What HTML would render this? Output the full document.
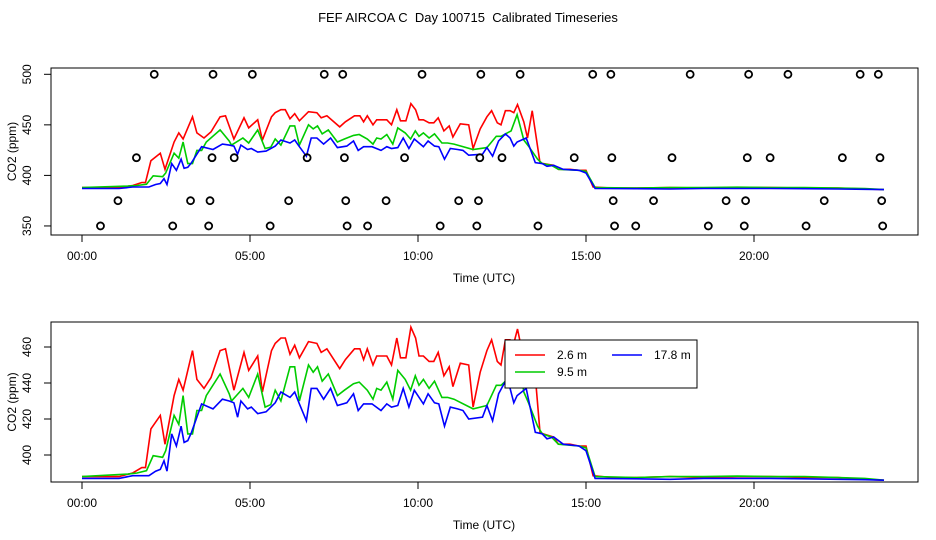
<!DOCTYPE html>
<html><head><meta charset="utf-8"><style>
html,body{margin:0;padding:0;background:#fff;}
svg{display:block;font-family:"Liberation Sans",sans-serif;}
</style></head><body>
<svg id="chart" width="936" height="540" viewBox="0 0 936 540" xmlns="http://www.w3.org/2000/svg">
<rect width="936" height="540" fill="#fff"/>
<text x="468" y="22" font-size="13" text-anchor="middle">FEF AIRCOA C&#160; Day 100715&#160; Calibrated Timeseries</text>
<g id="top"></g>
<g id="bottom"></g>
</svg>
<script>
const redH=[0,1.10,1.51,1.78,1.89,2.05,2.33,2.47,2.74,2.88,3.01,3.29,3.42,3.63,3.84,4.11,4.27,4.52,4.82,4.96,5.23,5.37,5.64,5.75,5.92,6.05,6.19,6.33,6.47,6.74,6.99,7.12,7.29,7.67,7.84,8.11,8.27,8.38,8.49,8.66,8.77,9.07,9.21,9.37,9.48,9.64,9.79,9.93,10.03,10.16,10.33,10.47,10.60,10.77,10.93,11.04,11.26,11.51,11.64,11.85,12.05,12.19,12.36,12.47,12.60,12.74,12.85,12.96,13.15,13.26,13.40,13.63,13.73,13.90,14.04,14.18,14.52,14.79,15.0,15.21,15.75,16.5,17.5,18.5,19.5,20.5,21.5,22.5,23.3,23.87];
const redV=[388,388,390,393,393,414.5,422,406,433,442,436,458,442,437,443,458,459,436,457,447,455,435,458,462,465,465,456,461,454,463,462,457,459,448,453,459,459,453,459,450,455,455,450,465,454,454,471,465,455,455,452,452,457,444,449,438,451,450,426.6,446,458,464,452,450,464,464,462,470,453,437,464,412.6,411.7,410.8,410,406,406,405,405,388.5,387.5,387.5,388,387.5,388,388,387.5,387.5,386.5,386];
const greenH=[0,1.37,1.64,1.92,2.12,2.40,2.49,2.74,2.88,3.01,3.15,3.29,3.42,3.56,3.70,4.11,4.38,4.45,4.79,4.96,5.23,5.45,5.62,5.75,5.92,6.19,6.33,6.47,6.74,6.88,7.01,7.15,7.33,7.60,7.81,8.08,8.25,8.49,8.66,8.77,8.90,9.07,9.25,9.40,9.62,9.78,9.92,10.03,10.16,10.33,10.49,10.71,10.88,11.07,11.64,12.05,12.33,12.47,12.60,12.77,12.95,13.15,13.29,13.56,13.70,13.97,14.18,14.79,15.0,15.27,16.5,17.5,18.5,19.5,20.5,21.5,22.5,23.3,23.87];
const greenV=[388,389.4,390,391.3,399.6,398.7,402.4,422,417,433,411.7,411.7,424.7,424.7,433,445,434,430,437,432,445,426.6,428,436,430,449,449,430,450,446,449,441,445,433,436,439.6,440.5,436,431,437,436,440.5,431,447,442,436,444,438.7,442,437,441,432,432,431,425.6,427.5,438.7,438.7,441,444,460,435,429,416,411.7,410,406,405,404,388,387.5,388,388,388.3,388,388,387.5,387,386];
const blueH=[0,1.10,1.51,1.99,2.19,2.33,2.44,2.53,2.67,2.81,2.95,3.04,3.15,3.26,3.56,3.90,4.18,4.38,4.52,4.63,4.73,4.93,5.04,5.23,5.48,5.75,5.92,6.19,6.33,6.47,6.68,6.82,6.99,7.19,7.40,7.60,7.88,8.08,8.22,8.38,8.63,8.90,9.07,9.21,9.40,9.56,9.73,9.89,10.16,10.30,10.49,10.62,10.79,10.96,11.18,11.34,11.51,11.92,12.05,12.22,12.40,12.60,12.74,12.85,12.95,13.22,13.49,13.70,13.84,14.04,14.32,14.79,15.0,15.27,16.5,17.5,18.5,19.5,20.5,21.5,22.5,23.3,23.87];
const blueV=[387,387,388.5,388.5,391,392,396.8,391,411.7,405,416,407,408,412.6,428.4,425.6,431,430,429,421,430,425.6,426.6,423,424,429,435,432,435,428.4,419,437,437,431,437,427.5,429,434,424.7,428.4,428.4,424.7,428.4,426.6,427.5,437,426.6,436,428.4,434,429,428.4,416,426.6,425.6,424.7,420,421,427.5,419,434,441,437,429,433,437,412.6,411.7,409,410,406,405,402.4,387,386.8,386.5,387,387,387,386.8,386.5,386.3,386];
const c500=[2.15,3.90,5.07,7.21,7.76,10.12,11.87,13.04,15.2,15.74,18.1,19.84,21.01,23.16,23.7];
const c417=[1.62,3.87,4.53,6.70,7.81,9.6,11.84,12.5,14.65,15.77,17.56,19.8,20.48,22.63,23.75];
const c375=[1.07,3.23,3.81,6.15,7.85,9.05,11.21,11.8,15.81,17.01,19.17,19.75,22.09,23.8];
const c350=[0.55,2.70,3.77,5.6,7.89,8.5,10.66,11.75,13.57,15.85,16.48,18.64,19.71,21.55,23.83];
const xTicks=["00:00","05:00","10:00","15:00","20:00"];
const topYTicks=[350,400,450,500];
const botYTicks=[400,420,440,460];
const legendLabels=["2.6 m","9.5 m","17.8 m"];

const NS="http://www.w3.org/2000/svg";
function mk(p,t,a){const e=document.createElementNS(NS,t);for(const k in a)e.setAttribute(k,a[k]);p.appendChild(e);return e;}
const xs=h=>82+h*33.6;
const yTop=v=>74.3+(500-v)*1.011;
const yBot=v=>455-(v-400)*1.8;

function panel(g,top,bot,ys,yticks,prefix){
  const box=mk(g,'rect',{x:51,y:top,width:867,height:bot-top,fill:'none',stroke:'#000','stroke-width':1});
  
  
  xTicks.forEach((t,i)=>{
    const x=xs(i*5);
    const l=mk(g,'line',{x1:x,x2:x,y1:bot,y2:bot+7,stroke:'#000'});
    
    
    const tx=mk(g,'text',{x:x,y:bot+25,'font-size':12,'text-anchor':'middle'});tx.textContent=t;
    
    
  });
  yticks.forEach(v=>{
    const y=ys(v);
    const l=mk(g,'line',{x1:44,x2:51,y1:y,y2:y,stroke:'#000'});
    
    
    const tx=mk(g,'text',{x:0,y:0,'font-size':12,'text-anchor':'middle',transform:`translate(31,${y}) rotate(-90)`});tx.textContent=v;
    
    
  });
  const xt=mk(g,'text',{x:484,y:bot+47,'font-size':12,'text-anchor':'middle'});xt.textContent='Time (UTC)';
  
  
  const yt=mk(g,'text',{x:0,y:0,'font-size':12,'text-anchor':'middle',transform:`translate(16,${(top+bot)/2}) rotate(-90)`});yt.textContent='CO2 (ppm)';
  
  
}
function series(g,H,V,ys,col,name){
  const d=H.map((h,i)=>(i?'L':'M')+xs(h).toFixed(1)+','+ys(V[i]).toFixed(1)).join('');
  const p=mk(g,'path',{d:d,fill:'none',stroke:col,'stroke-width':1.6});
  
  
}
const gt=document.getElementById('top'), gb=document.getElementById('bottom');
panel(gt,68,235,yTop,topYTicks,'top');
series(gt,redH,redV,yTop,'#f00','top-line-2.6m');
series(gt,greenH,greenV,yTop,'#0c0','top-line-9.5m');
series(gt,blueH,blueV,yTop,'#00f','top-line-17.8m');
[[c500,500],[c417,417.5],[c375,375],[c350,350]].forEach(([arr,v])=>{
  arr.forEach(h=>{
    const c=mk(gt,'circle',{cx:xs(h),cy:yTop(v),r:3.5,fill:'none',stroke:'#000','stroke-width':1.8});
    
    
  });
});
panel(gb,322,482,yBot,botYTicks,'bottom');
series(gb,redH,redV,yBot,'#f00','bottom-line-2.6m');
series(gb,greenH,greenV,yBot,'#0c0','bottom-line-9.5m');
series(gb,blueH,blueV,yBot,'#00f','bottom-line-17.8m');
const lg=mk(gb,'g',{});


mk(lg,'rect',{x:505,y:340,width:192,height:48,fill:'#fff',stroke:'#000'});
[[515,355,'#f00',0],[515,372,'#0c0',1],[612,355,'#00f',2]].forEach(([x,y,col,i])=>{
  const e=mk(lg,'g',{});
  
  
  mk(e,'line',{x1:x,x2:x+30,y1:y,y2:y,stroke:col,'stroke-width':1.6});
  const t=mk(e,'text',{x:x+42,y:y+4,'font-size':12});t.textContent=legendLabels[i];
});
</script>
</body></html>
